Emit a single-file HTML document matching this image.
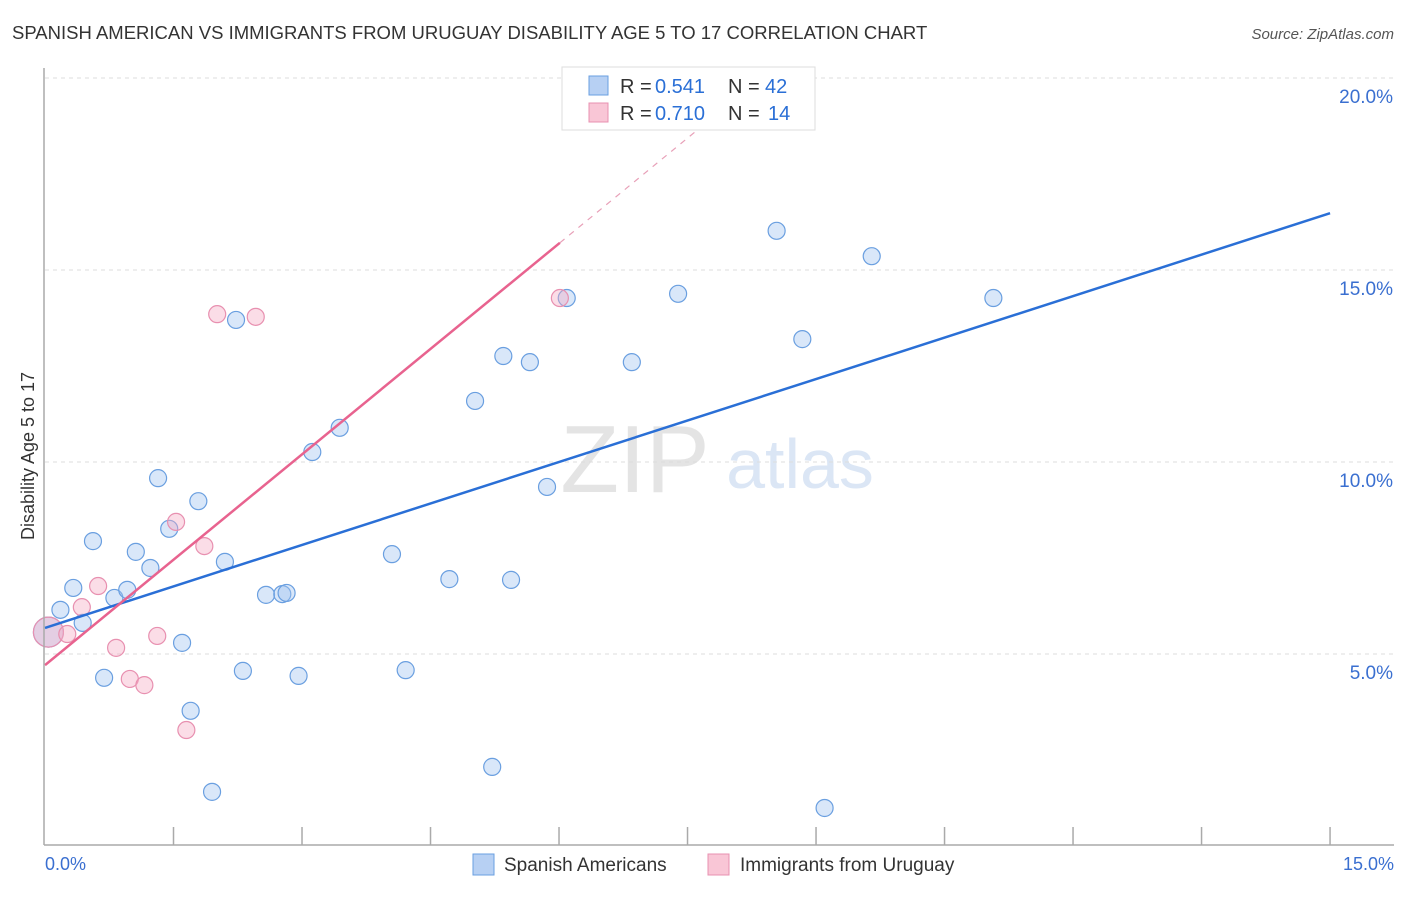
<!DOCTYPE html>
<html><head><meta charset="utf-8"><style>
body{margin:0;background:#fff;font-family:"Liberation Sans",sans-serif;}
svg text{font-family:"Liberation Sans",sans-serif;}
</style></head><body>
<svg id="c" width="1406" height="892" xmlns="http://www.w3.org/2000/svg">
<text x="12" y="39" font-size="18.5" fill="#333">SPANISH AMERICAN VS IMMIGRANTS FROM URUGUAY DISABILITY AGE 5 TO 17 CORRELATION CHART</text>
<text x="1394" y="39" font-size="15" fill="#555" font-style="italic" text-anchor="end">Source: ZipAtlas.com</text>
<text x="34" y="456" font-size="18" fill="#333" text-anchor="middle" transform="rotate(-90 34 456)">Disability Age 5 to 17</text>
<text x="635" y="492" font-size="96" fill="#e4e4e4" font-family="Liberation Serif" text-anchor="middle">ZIP</text>
<text x="800" y="488" font-size="70" fill="#dbe6f5" text-anchor="middle">atlas</text>
<g id="grid"></g><g id="marks"></g><g id="lines"></g>
<line x1="44" y1="68" x2="44" y2="845" stroke="#aaa" stroke-width="1.5"/>
<line x1="44" y1="845" x2="1394" y2="845" stroke="#aaa" stroke-width="1.5"/>
<text x="45" y="870" font-size="18" fill="#3a6fd0">0.0%</text>
<text x="1394" y="870" font-size="18" fill="#3a6fd0" text-anchor="end">15.0%</text>
<g>
<rect x="562" y="67" width="253" height="63" fill="#fff" stroke="#ddd"/>
<rect x="589" y="76" width="19" height="19" fill="#b7d0f3" stroke="#6a9fe0"/>
<rect x="589" y="103" width="19" height="19" fill="#f9c6d6" stroke="#e890b0"/>
<text x="620" y="93" font-size="20" fill="#333">R =</text>
<text x="655" y="93" font-size="20" fill="#2a6fd6">0.541</text>
<text x="728" y="93" font-size="20" fill="#333">N =</text>
<text x="765" y="93" font-size="20" fill="#2a6fd6">42</text>
<text x="620" y="120" font-size="20" fill="#333">R =</text>
<text x="655" y="120" font-size="20" fill="#2a6fd6">0.710</text>
<text x="728" y="120" font-size="20" fill="#333">N =</text>
<text x="768" y="120" font-size="20" fill="#2a6fd6">14</text>
</g>
<g>
<rect x="473" y="854" width="21" height="21" fill="#b7d0f3" stroke="#6a9fe0"/>
<text x="504" y="871" font-size="19" fill="#333">Spanish Americans</text>
<rect x="708" y="854" width="21" height="21" fill="#f9c6d6" stroke="#e890b0"/>
<text x="740" y="871" font-size="19" fill="#333">Immigrants from Uruguay</text>
</g>
</svg>
<script>
const yTicks=[5,10,15,20];
const xTickCount=10;
const blueX=[0.04,0.18,0.33,0.44,0.56,0.69,0.81,0.96,1.06,1.23,1.32,1.45,1.60,1.70,1.79,1.95,2.10,2.23,2.31,2.58,2.77,2.82,2.96,3.12,3.44,4.05,4.21,4.72,5.02,5.22,5.35,5.44,5.66,5.86,6.09,6.85,7.39,8.54,8.84,9.10,9.65,11.07];
const blueY=[5.57,6.15,6.72,5.81,7.94,4.38,6.46,6.67,7.66,7.24,9.58,8.26,5.29,3.52,8.98,1.41,7.40,13.70,4.56,6.54,6.56,6.59,4.43,10.26,10.89,7.60,4.58,6.95,11.59,2.06,12.76,6.93,12.60,9.35,14.27,12.60,14.38,16.02,13.20,0.99,15.36,14.27];
const pinkX=[0.04,0.26,0.43,0.62,0.83,0.99,1.16,1.31,1.53,1.65,1.86,2.01,2.46,6.01];
const pinkY=[5.57,5.52,6.22,6.77,5.16,4.35,4.19,5.47,8.44,3.02,7.81,13.85,13.78,14.27];
const blueLine=[5.68,16.48];
const pinkIntercept=4.71, pinkSlope=1.83;
const NS="http://www.w3.org/2000/svg";
const sx=v=>45+v*85.67, sy=v=>846-v*38.4;
function mk(t,a,p){const e=document.createElementNS(NS,t);for(const k in a)e.setAttribute(k,a[k]);p.appendChild(e);return e;}
const grid=document.getElementById('grid'),marks=document.getElementById('marks'),lines=document.getElementById('lines');
yTicks.forEach(t=>{
 const l=mk('line',{x1:45,x2:1394,y1:sy(t),y2:sy(t),stroke:'#ddd','stroke-dasharray':'4,4'},grid);
 
 
 const tx=mk('text',{x:1393,y:sy(t)+25,'font-size':19,fill:'#3a6fd0','text-anchor':'end'},grid);
 tx.textContent=t.toFixed(1)+'%';
 
 
});
for(let i=1;i<=xTickCount;i++){
 const x=sx(i*1.5);
 const l=mk('line',{x1:x,x2:x,y1:827,y2:845,stroke:'#aaa','stroke-width':1.5},grid);
 
 
}
blueX.forEach((x,i)=>{
 const c=mk('circle',{cx:sx(x),cy:sy(blueY[i]),r:i==0?15:8.5,fill:'rgba(160,196,240,0.4)',stroke:'#6a9fe0','stroke-width':1.2},marks);
 
 
});
pinkX.forEach((x,i)=>{
 const c=mk('circle',{cx:sx(x),cy:sy(pinkY[i]),r:i==0?15:8.5,fill:'rgba(245,170,195,0.4)',stroke:'#e890b0','stroke-width':1.2},marks);
 
 
});
const bl=mk('line',{x1:sx(0),y1:sy(blueLine[0]),x2:sx(15),y2:sy(blueLine[1]),stroke:'#2a6fd6','stroke-width':2.5},lines);


const pmax=Math.max(...pinkX);
const pl=mk('line',{x1:sx(0),y1:sy(pinkIntercept),x2:sx(pmax),y2:sy(pinkIntercept+pinkSlope*pmax),stroke:'#e8638f','stroke-width':2.5},lines);


const xe=8;
const pd=mk('line',{x1:sx(pmax),y1:sy(pinkIntercept+pinkSlope*pmax),x2:sx(xe),y2:sy(pinkIntercept+pinkSlope*xe),stroke:'#e8a0b8','stroke-width':1.2,'stroke-dasharray':'6,6'},lines);


</script>
</body></html>
